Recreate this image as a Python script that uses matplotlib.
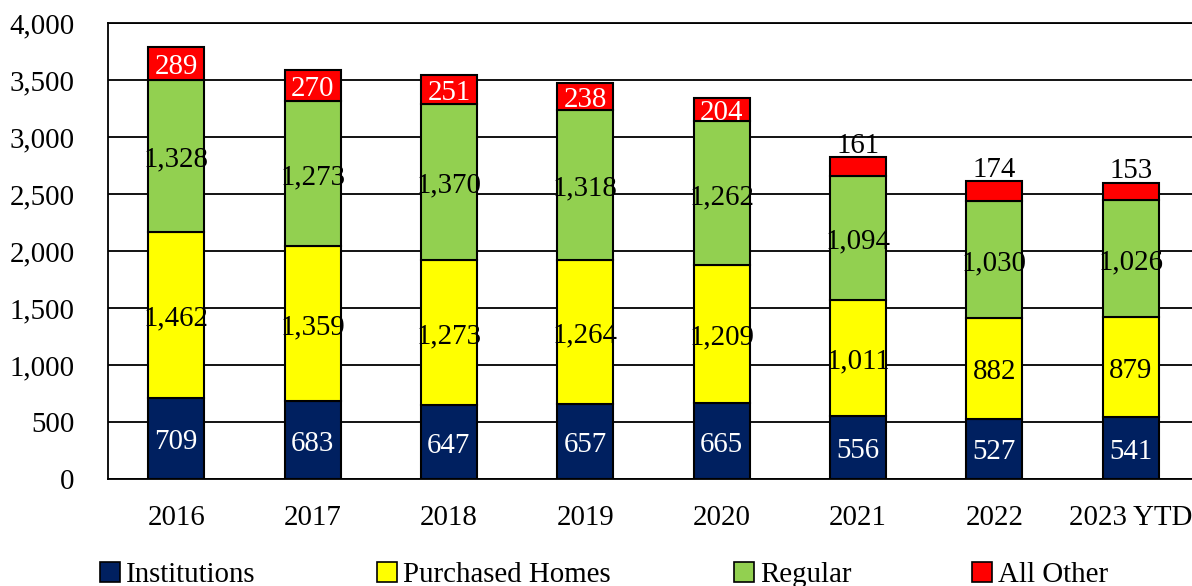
import matplotlib
matplotlib.use("Agg")
import matplotlib.pyplot as plt
from matplotlib.patches import Patch
import numpy as np

plt.rcParams['font.family'] = ['Liberation Serif', 'DejaVu Serif']

years = ["2016", "2017", "2018", "2019", "2020", "2021", "2022", "2023 YTD"]
institutions = [709, 683, 647, 657, 665, 556, 527, 541]
purchased_homes = [1462, 1359, 1273, 1264, 1209, 1011, 882, 879]
regular = [1328, 1273, 1370, 1318, 1262, 1094, 1030, 1026]
all_other = [289, 270, 251, 238, 204, 161, 174, 153]

series = [
    ("Institutions", institutions, "#002060"),
    ("Purchased Homes", purchased_homes, "#FFFF00"),
    ("Regular", regular, "#92D050"),
    ("All Other", all_other, "#FF0000"),
]

W, H = 1192, 586
fig = plt.figure(figsize=(W / 100, H / 100), dpi=100)
left = 108 / W
right = 1199 / W
bottom = (H - 479) / H
top = (H - 23) / H
ax = fig.add_axes([left, bottom, right - left, top - bottom])

x = np.arange(len(years))
width = 0.41
base = np.zeros(len(years))
FS = 20.8


def put(xv, yv, label, color, va="center", dy=-2.5):
    ax.annotate(label, (xv, yv), xytext=(0, dy), textcoords="offset points",
                ha="center", va=va, color=color, fontsize=FS, zorder=4)


for i, (name, vals, color) in enumerate(series):
    vals = np.array(vals, dtype=float)
    ax.bar(x, vals, width, bottom=base, color=color, edgecolor="black",
           linewidth=1.5, zorder=3)
    for j, v in enumerate(vals):
        label = f"{int(v):,}"
        if name == "Institutions":
            put(x[j], base[j] + v / 2, label, "white")
        elif name == "All Other":
            if j < 5:
                put(x[j], base[j] + v / 2, label, "white")
            else:
                put(x[j], base[j] + v, label, "black", va="bottom", dy=-1)
        else:
            put(x[j], base[j] + v / 2, label, "black")
    base = base + vals

ax.set_xlim(-0.5, len(years) - 0.5)
ax.set_ylim(0, 4000)
ax.set_yticks(np.arange(0, 4001, 500))
ax.set_yticklabels([f"{v:,}" for v in range(0, 4001, 500)])
ax.set_xticks(x)
ax.set_xticklabels(years)
ax.tick_params(axis="both", length=0, labelsize=FS)
ax.tick_params(axis="y", pad=24)
ax.tick_params(axis="x", pad=19)
ax.yaxis.grid(True, color="black", linewidth=1.3, zorder=0)
ax.set_axisbelow(True)
for s in ["left", "bottom", "top"]:
    ax.spines[s].set_color("black")
    ax.spines[s].set_linewidth(1.3)
ax.spines["right"].set_visible(False)

legend_x = [100, 377, 734, 972]
for (name, vals, color), lx in zip(series, legend_x):
    fig.legend(handles=[Patch(facecolor=color, edgecolor="black", linewidth=1.2, label=name)],
               loc="center left", bbox_to_anchor=(lx / W, (H - 575) / H),
               frameon=False, fontsize=FS, handlelength=0.7, handleheight=0.7,
               handletextpad=0.2, borderpad=0, borderaxespad=0)

fig.savefig("out.png", dpi=100)
